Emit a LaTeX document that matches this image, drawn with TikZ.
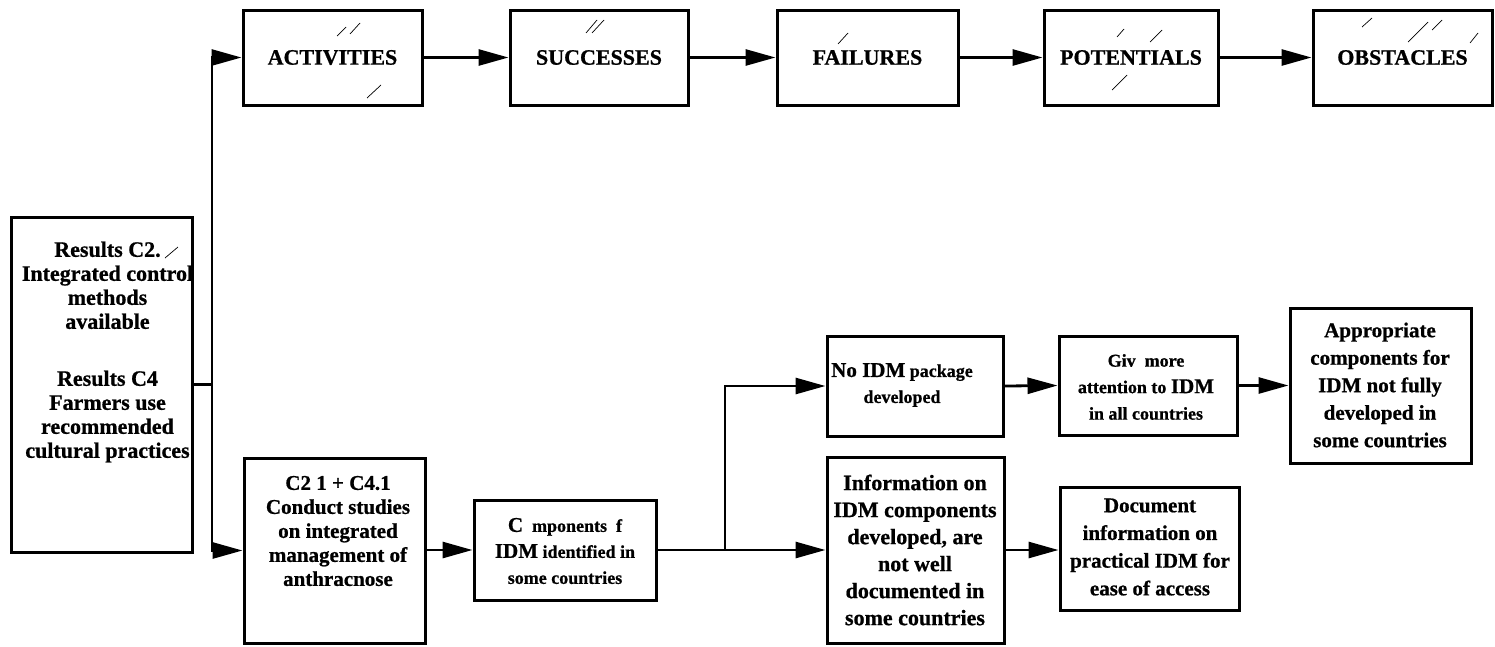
\documentclass[tikz,border=0pt]{standalone}
\usepackage{fontspec}
\setmainfont{Liberation Serif}[BoldFeatures={FakeBold=0.8}]
\usetikzlibrary{arrows.meta}
\newcommand\setfs[2]{\fontsize{#1}{#2}\selectfont\bfseries}
\newcommand\largerword[1]{{\fontsize{21}{26}\selectfont #1}}
\begin{document}
\begin{tikzpicture}[x=1pt,y=-1pt,
  box/.style={draw, line width=3pt, inner sep=0pt},
  txt/.style={align=center, inner sep=0pt},
  head/.style={box, minimum width=#1, minimum height=95pt, font=\setfs{22}{24}},
  link/.style={line width=2.8pt},
  arr/.style={link, -{Triangle[length=30pt,width=16pt]}},
  nick/.style={line width=0.7pt}]
\useasboundingbox (0,0) rectangle (1495,646);

% top row of headings
\node[head=179pt] (act)  at (332.5,57.5) {ACTIVITIES};
\node[head=178pt] (suc)  at (599,57.5)   {SUCCESSES};
\node[head=181pt] (fail) at (867.5,57.5) {FAILURES};
\node[head=174pt] (pot)  at (1131,57.5)  {POTENTIALS};
\node[head=179pt] (obs)  at (1402.5,57.5){OBSTACLES};

% result box on the left
\node[box, minimum width=181pt, minimum height=335pt] (res) at (101.5,384.5) {};
\node[txt, font=\setfs{22}{24}] (restxt) at (107.5,352)
  {Results C2.\\Integrated control\\methods\\available\\[33pt]Results C4\\Farmers use\\recommended\\cultural practices};

% activity
\node[box, minimum width=181pt, minimum height=185pt] (c2) at (334.5,550.5) {};
\node[txt, font=\setfs{21}{24}] (c2txt) at (338,531)
  {C2 1 + C4.1\\Conduct studies\\on integrated\\management of\\anthracnose};

% success
\node[box, minimum width=182pt, minimum height=100pt] (comp) at (565,550) {};
\node[txt, font=\setfs{18}{26}] (comptxt) at (565,551)
  {\largerword{C}~~mponents~~f\\\largerword{IDM} identified in\\some countries};

% failures
\node[box, minimum width=176pt, minimum height=100pt] (noidm) at (915,386) {};
\node[txt, font=\setfs{18}{26}] (noidmtxt) at (902,385)
  {\largerword{No IDM} package\\developed};
\node[box, minimum width=177pt, minimum height=186pt] (info) at (915.5,550) {};
\node[txt, font=\setfs{22}{27}] (infotxt) at (915,550)
  {Information on\\IDM components\\developed, are\\not well\\documented in\\some countries};

% potentials
\node[box, minimum width=178pt, minimum height=99pt] (give) at (1148,385.5) {};
\node[txt, font=\setfs{18}{26.5}] (givetxt) at (1146,387)
  {Giv~~more\\attention to \largerword{IDM}\\in all countries};
\node[box, minimum width=179pt, minimum height=123pt] (doc) at (1149.5,548.5) {};
\node[txt, font=\setfs{21}{27.7}] (doctxt) at (1150,547)
  {Document\\information on\\practical IDM for\\ease of access};

% obstacles
\node[box, minimum width=181pt, minimum height=155pt] (appr) at (1380.5,385.5) {};
\node[txt, font=\setfs{21}{27.5}] (apprtxt) at (1380,385)
  {Appropriate\\components for\\IDM not fully\\developed in\\some countries};

% connectors
\coordinate (j1) at (212,384.5);
\coordinate (j2) at (725,550);
\draw[link] (res.east) -- (j1);
\draw[arr] (j1) |- (act.west);
\draw[arr] (j1) |- (c2.west);
\draw[arr] (act) -- (suc);
\draw[arr] (suc) -- (fail);
\draw[arr] (fail) -- (pot);
\draw[arr] (pot) -- (obs);
\draw[arr] (c2.east |- comp.west) -- (comp.west);
\draw[link] (comp.east) -- (j2);
\draw[arr] (j2) |- (noidm.west);
\draw[arr] (j2) -- (info.west);
\draw[arr] (noidm.east) -- (give.west);
\draw[arr] (give.east) -- (appr.west);
\draw[arr] (info.east) -- (info.east -| doc.west);

% small pen strokes on the boxes
\draw[nick] (337,36) -- (346,27) (350,34) -- (360,23) (367,98) -- (381,85);
\draw[nick] (586,33) -- (597,20) (592,33) -- (604,20);
\draw[nick] (838,44) -- (848,33);
\draw[nick] (1117,37) -- (1124,29) (1150,42) -- (1162,30) (1112,90) -- (1127,75);
\draw[nick] (1362,27) -- (1372,18) (1408,42) -- (1428,22) (1432,30) -- (1442,20) (1470,43) -- (1478,33);
\draw[nick] (165,258) -- (178,247);
\end{tikzpicture}
\end{document}
